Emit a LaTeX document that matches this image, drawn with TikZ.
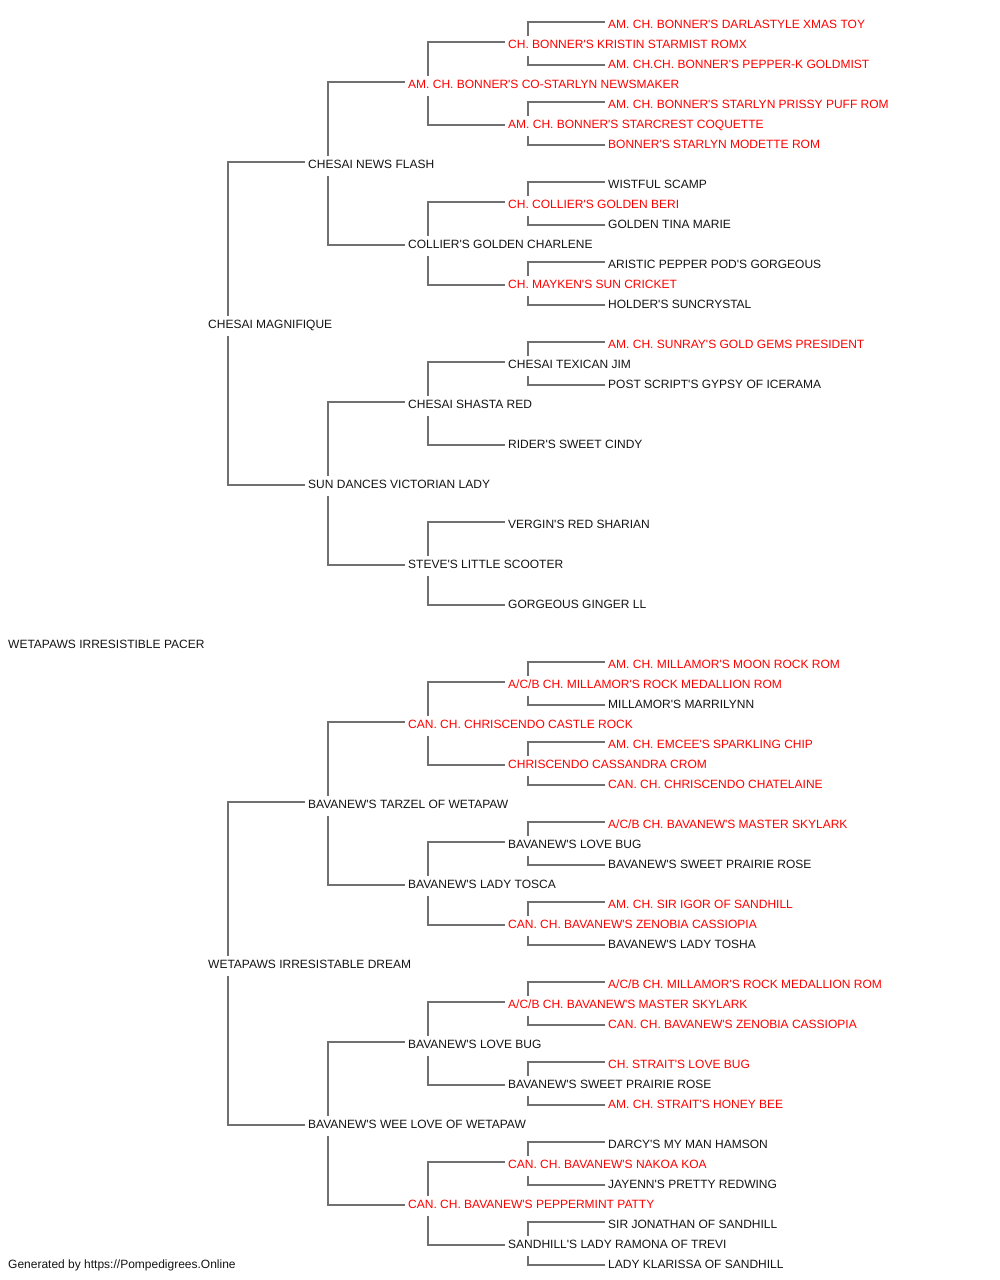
\documentclass[tikz,border=0pt]{standalone}
\usepackage{fontspec}
\setmainfont{Liberation Sans}[Ligatures=TeXOff]
\definecolor{champred}{RGB}{255,0,0}
\definecolor{linegray}{RGB}{112,112,112}
\definecolor{plainblk}{RGB}{20,20,20}

\begin{document}
\begin{tikzpicture}[x=1pt,y=-1pt,
			dog/.style={anchor=base west,inner xsep=3pt,inner ysep=4pt,text height=8.6pt,text depth=3pt,font=\fontsize{12}{14}\selectfont},
			link/.style={draw=linegray,line width=2pt}]
			\useasboundingbox (0,0) rectangle (1000,1280);
			% column/row/colour/name, one column = 100pt, one row = 20pt
			\foreach \col/\row/\tint/\dogname in {
				0/31/plainblk/{WETAPAWS IRRESISTIBLE PACER},
				2/15/plainblk/{CHESAI MAGNIFIQUE},
				2/47/plainblk/{WETAPAWS IRRESISTABLE DREAM},
				3/7/plainblk/{CHESAI NEWS FLASH},
				3/23/plainblk/{SUN DANCES VICTORIAN LADY},
				3/39/plainblk/{BAVANEW'S TARZEL OF WETAPAW},
				3/55/plainblk/{BAVANEW'S WEE LOVE OF WETAPAW},
				4/3/champred/{AM. CH. BONNER'S CO-STARLYN NEWSMAKER},
				4/11/plainblk/{COLLIER'S GOLDEN CHARLENE},
				4/19/plainblk/{CHESAI SHASTA RED},
				4/27/plainblk/{STEVE'S LITTLE SCOOTER},
				4/35/champred/{CAN. CH. CHRISCENDO CASTLE ROCK},
				4/43/plainblk/{BAVANEW'S LADY TOSCA},
				4/51/plainblk/{BAVANEW'S LOVE BUG},
				4/59/champred/{CAN. CH. BAVANEW'S PEPPERMINT PATTY},
				5/1/champred/{CH. BONNER'S KRISTIN STARMIST ROMX},
				5/5/champred/{AM. CH. BONNER'S STARCREST COQUETTE},
				5/9/champred/{CH. COLLIER'S GOLDEN BERI},
				5/13/champred/{CH. MAYKEN'S SUN CRICKET},
				5/17/plainblk/{CHESAI TEXICAN JIM},
				5/21/plainblk/{RIDER'S SWEET CINDY},
				5/25/plainblk/{VERGIN'S RED SHARIAN},
				5/29/plainblk/{GORGEOUS GINGER LL},
				5/33/champred/{A/C/B CH. MILLAMOR'S ROCK MEDALLION ROM},
				5/37/champred/{CHRISCENDO CASSANDRA CROM},
				5/41/plainblk/{BAVANEW'S LOVE BUG},
				5/45/champred/{CAN. CH. BAVANEW'S ZENOBIA CASSIOPIA},
				5/49/champred/{A/C/B CH. BAVANEW'S MASTER SKYLARK},
				5/53/plainblk/{BAVANEW'S SWEET PRAIRIE ROSE},
				5/57/champred/{CAN. CH. BAVANEW'S NAKOA KOA},
				5/61/plainblk/{SANDHILL'S LADY RAMONA OF TREVI},
				6/0/champred/{AM. CH. BONNER'S DARLASTYLE XMAS TOY},
				6/2/champred/{AM. CH.CH. BONNER'S PEPPER-K GOLDMIST},
				6/4/champred/{AM. CH. BONNER'S STARLYN PRISSY PUFF ROM},
				6/6/champred/{BONNER'S STARLYN MODETTE ROM},
				6/8/plainblk/{WISTFUL SCAMP},
				6/10/plainblk/{GOLDEN TINA MARIE},
				6/12/plainblk/{ARISTIC PEPPER POD'S GORGEOUS},
				6/14/plainblk/{HOLDER'S SUNCRYSTAL},
				6/16/champred/{AM. CH. SUNRAY'S GOLD GEMS PRESIDENT},
				6/18/plainblk/{POST SCRIPT'S GYPSY OF ICERAMA},
				6/32/champred/{AM. CH. MILLAMOR'S MOON ROCK ROM},
				6/34/plainblk/{MILLAMOR'S MARRILYNN},
				6/36/champred/{AM. CH. EMCEE'S SPARKLING CHIP},
				6/38/champred/{CAN. CH. CHRISCENDO CHATELAINE},
				6/40/champred/{A/C/B CH. BAVANEW'S MASTER SKYLARK},
				6/42/plainblk/{BAVANEW'S SWEET PRAIRIE ROSE},
				6/44/champred/{AM. CH. SIR IGOR OF SANDHILL},
				6/46/plainblk/{BAVANEW'S LADY TOSHA},
				6/48/champred/{A/C/B CH. MILLAMOR'S ROCK MEDALLION ROM},
				6/50/champred/{CAN. CH. BAVANEW'S ZENOBIA CASSIOPIA},
				6/52/champred/{CH. STRAIT'S LOVE BUG},
				6/54/champred/{AM. CH. STRAIT'S HONEY BEE},
				6/56/plainblk/{DARCY'S MY MAN HAMSON},
				6/58/plainblk/{JAYENN'S PRETTY REDWING},
				6/60/plainblk/{SIR JONATHAN OF SANDHILL},
				6/62/plainblk/{LADY KLARISSA OF SANDHILL}}
			\node[dog,text=\tint] (r\row) at (5+100*\col,28.5+20*\row) {\dogname};
			% parent/sire/dam
			\foreach \p/\s/\d in {15/7/23,47/39/55,
				7/3/11,23/19/27,39/35/43,55/51/59,
				3/1/5,11/9/13,19/17/21,27/25/29,35/33/37,43/41/45,51/49/53,59/57/61,
				1/0/2,5/4/6,9/8/10,13/12/14,17/16/18,
				33/32/34,37/36/38,41/40/42,45/44/46,49/48/50,53/52/54,57/56/58,61/60/62}{
				\draw[link] ([xshift=23pt]r\p.north west) |- ([yshift=6.8pt]r\s.base west);
				\draw[link] ([xshift=23pt]r\p.south west) |- ([yshift=4pt]r\d.base west);
			}
			\node[dog,text=plainblk] (credit) at (5,28.5+20*62) {Generated by https://Pompedigrees.Online};
		\end{tikzpicture}
\end{document}
